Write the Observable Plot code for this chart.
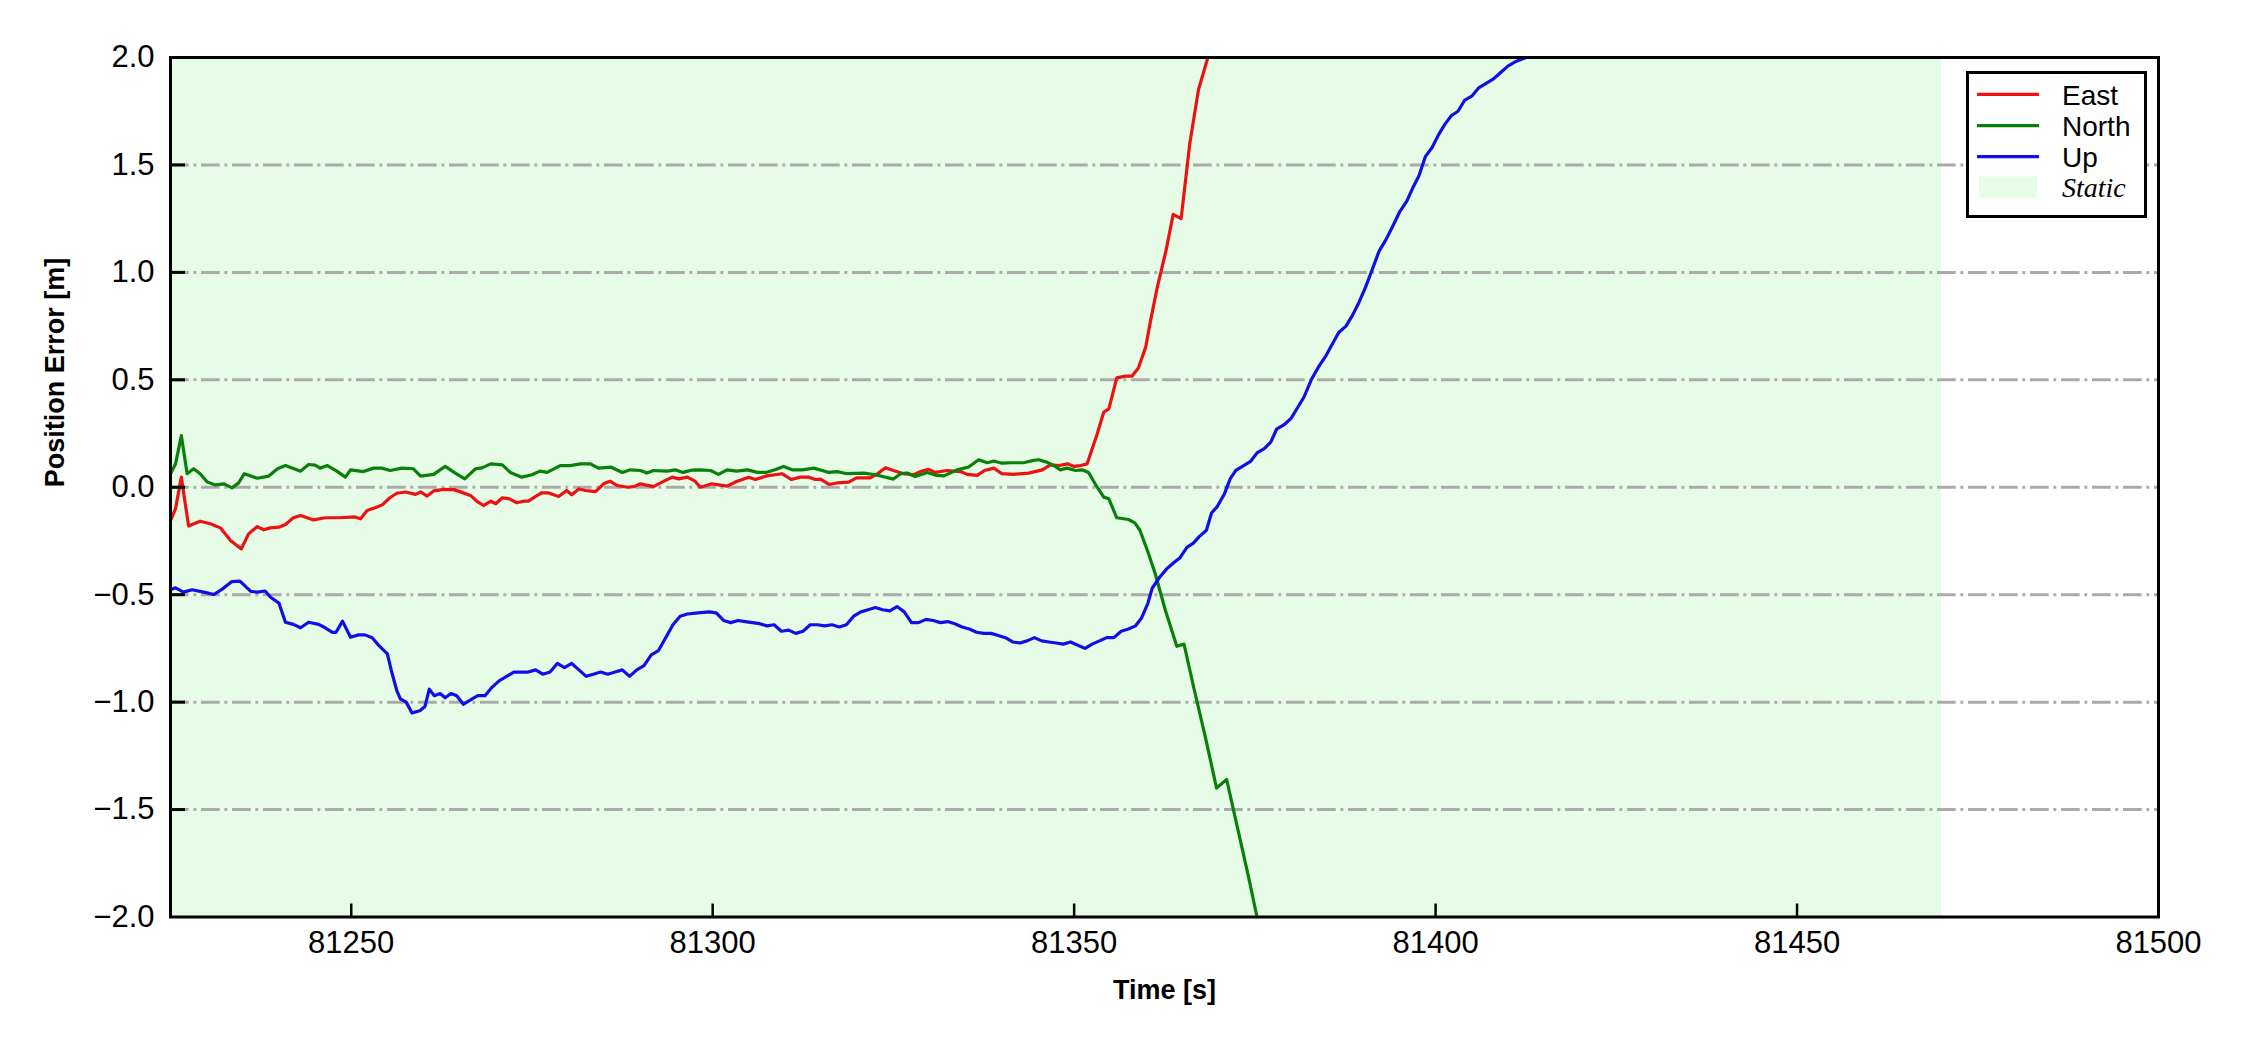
<!DOCTYPE html>
<html>
<head>
<meta charset="utf-8">
<script src="https://cdn.jsdelivr.net/npm/d3@7"></script>
<script src="https://cdn.jsdelivr.net/npm/@observablehq/plot@0.6"></script>
<style>
  html, body { margin: 0; padding: 0; background: #fff; }
  #wrap { position: relative; width: 2250px; height: 1050px; }
  #legend { position: absolute; left: 1966px; top: 71px; }
</style>
</head>
<body>
<div id="wrap"></div>
<script>
// ---- Data ----
const eastT = [81225,81225.7,81226.5,81227.5,81229.1,81230.5,81231.9,81233.3,81234.8,81235.8,81237,81237.9,81238.8,81240,81240.9,81242,81243,81244.8,81246.4,81248.3,81250.5,81251.3,81252.2,81253.3,81254.3,81255.3,81256.3,81257.5,81258.9,81259.6,81260.5,81261.4,81262.8,81264.2,81265.4,81266.5,81267.4,81268.3,81269.3,81270,81270.9,81271.9,81272.9,81273.8,81274.5,81276.3,81277.2,81278.7,81279.8,81280.5,81281.5,81282.4,81283.8,81284.9,81285.8,81286.8,81288.2,81289.1,81290,81291.8,81293,81294.4,81295.3,81296.5,81297.5,81298.3,81299.9,81302,81303.3,81305,81305.9,81307.5,81309.6,81310.9,81312.1,81313.3,81314.2,81314.9,81316.1,81317.2,81318.8,81319.9,81321.8,81322.7,81323.9,81325,81326.4,81327.8,81328.7,81329.9,81330.8,81332.4,81334.3,81335.2,81336.6,81337.6,81338.9,81340,81341.6,81343.7,81345.6,81346.7,81347.9,81349.1,81350,81350.9,81351.8,81353.2,81354.1,81354.8,81355.9,81357.1,81358,81358.9,81359.9,81360.6,81361.5,81362.7,81363.7,81364.8,81366,81367.2,81368.5,81370];
const eastV = [-0.155,-0.1,0.047,-0.18,-0.158,-0.17,-0.189,-0.248,-0.287,-0.217,-0.183,-0.198,-0.189,-0.186,-0.173,-0.142,-0.131,-0.152,-0.142,-0.142,-0.138,-0.147,-0.108,-0.095,-0.082,-0.05,-0.028,-0.022,-0.033,-0.022,-0.041,-0.017,-0.01,-0.011,-0.025,-0.038,-0.066,-0.085,-0.065,-0.077,-0.049,-0.054,-0.072,-0.065,-0.065,-0.026,-0.026,-0.043,-0.015,-0.035,-0.008,-0.015,-0.02,0.016,0.028,0.008,0,0.003,0.016,0.003,0.024,0.047,0.039,0.047,0.03,0,0.016,0.005,0.027,0.047,0.036,0.053,0.063,0.036,0.047,0.047,0.036,0.038,0.013,0.02,0.024,0.044,0.044,0.06,0.091,0.078,0.063,0.058,0.073,0.083,0.069,0.078,0.073,0.06,0.055,0.078,0.089,0.063,0.06,0.066,0.081,0.104,0.101,0.109,0.097,0.101,0.109,0.249,0.35,0.365,0.509,0.517,0.517,0.556,0.652,0.78,0.93,1.1,1.27,1.25,1.6,1.85,2.0,2.3];

const northT = [81225,81225.7,81226.5,81227.3,81228.2,81229.1,81230.1,81231.2,81232.4,81233.5,81234.4,81235.2,81237,81238.6,81239.8,81240.9,81243,81244.1,81245,81245.7,81246.7,81248,81249.2,81249.9,81251.7,81253.1,81254.2,81255.4,81257,81258.6,81259.6,81261.4,81263,81264.4,81265.7,81267.2,81268.1,81269.3,81270.9,81272,81273.6,81275,81276.1,81277.1,81278.9,81280.3,81281.7,81283.1,81284.2,81285.9,81287.5,81288.6,81290,81290.9,81291.8,81293.7,81294.8,81295.9,81297.2,81298.3,81299.7,81300.8,81302,81303.3,81304.8,81306.2,81307.4,81308.7,81309.8,81311,81312.4,81314,81316.1,81317.2,81318.6,81320.9,81322.5,81325,81326,81326.9,81328,81329.7,81331,81332,81333.8,81335.4,81336.8,81338,81338.9,81340,81341.2,81343,81344.4,81345.1,81346.2,81347.2,81348.1,81349,81350.2,81351.1,81352,81352.9,81354.1,81354.8,81355.9,81357.5,81358.4,81359.1,81360.2,81361.2,81362.6,81364.2,81365.2,81366.6,81368.2,81369.7,81371.1,81372.5,81374.1,81375.3,81377];
const northV = [0.063,0.109,0.24,0.063,0.086,0.063,0.024,0.011,0.016,-0.003,0.019,0.063,0.042,0.052,0.086,0.101,0.075,0.106,0.103,0.089,0.101,0.075,0.047,0.081,0.073,0.089,0.089,0.078,0.089,0.086,0.052,0.06,0.097,0.066,0.039,0.086,0.09,0.109,0.104,0.069,0.047,0.058,0.075,0.069,0.101,0.101,0.109,0.109,0.089,0.094,0.069,0.081,0.078,0.066,0.078,0.075,0.081,0.069,0.08,0.081,0.078,0.06,0.081,0.075,0.081,0.069,0.069,0.083,0.097,0.081,0.081,0.089,0.069,0.073,0.063,0.066,0.058,0.038,0.063,0.066,0.05,0.069,0.055,0.053,0.081,0.094,0.128,0.114,0.122,0.112,0.114,0.114,0.125,0.128,0.117,0.101,0.081,0.089,0.078,0.081,0.069,0.016,-0.046,-0.054,-0.142,-0.15,-0.166,-0.2,-0.3,-0.4,-0.57,-0.74,-0.73,-0.94,-1.17,-1.4,-1.36,-1.57,-1.81,-2.0,-2.2];

const upT = [81225,81225.7,81226.8,81228,81229.6,81231,81232.2,81233.5,81234.6,81236.1,81237,81238.1,81238.8,81240,81240.9,81242,81243,81244.1,81245.5,81246.4,81247.4,81247.9,81248.8,81249.9,81251,81251.9,81252.9,81253.8,81255,81255.6,81256.3,81256.8,81257.6,81258.4,81259.5,81260.2,81260.8,81261.5,81262.3,81263,81263.8,81264.6,81265.5,81266.5,81267.5,81268.5,81269.5,81270.5,81271.5,81272.5,81273.5,81274.5,81275.5,81276.5,81277.5,81278.5,81279.5,81280.5,81281.5,81282.5,81283.5,81284.5,81285.5,81286.5,81287.5,81288.5,81289.5,81290.5,81291.5,81292.5,81293.5,81294.5,81295.5,81296.5,81298,81299.5,81300.5,81301.5,81302.5,81303.5,81304.5,81305.5,81306.5,81307.5,81308.5,81309.5,81310.5,81311.5,81312.5,81313.5,81314.5,81315.5,81316.5,81317.5,81318.5,81319.5,81320.5,81321.5,81322.5,81323.5,81324.5,81325.5,81326.5,81327.5,81328.5,81329.5,81330.5,81331.5,81332.5,81333.5,81334.5,81335.5,81336.5,81337.5,81338.5,81339.5,81340.5,81341.5,81342.5,81343.5,81344.5,81345.5,81346.5,81347.5,81348.5,81349.5,81350.5,81351.5,81352.5,81353.5,81354.5,81355.5,81356.5,81357.5,81358.5,81359.3,81360.2,81360.8,81361.8,81362.8,81363.8,81364.6,81365.6,81366.5,81367.3,81368.3,81369,81369.8,81370.8,81371.6,81372.4,81373.4,81374.4,81375.3,81376.3,81377.2,81378,81379,81380,81380.9,81381.8,81382.8,81383.8,81384.8,81385.6,81386.6,81387.6,81388.5,81389.4,81390.3,81391.2,81392.2,81393.1,81394,81395,81396,81396.8,81397.7,81398.6,81399.5,81400.4,81401.3,81402.2,81403.1,81404,81405,81406,81407,81408,81409,81410,81411,81412.5,81414];
const upV = [-0.477,-0.468,-0.488,-0.477,-0.488,-0.499,-0.473,-0.439,-0.437,-0.485,-0.488,-0.483,-0.511,-0.539,-0.628,-0.638,-0.654,-0.628,-0.638,-0.654,-0.675,-0.675,-0.623,-0.698,-0.687,-0.687,-0.7,-0.736,-0.775,-0.86,-0.946,-0.985,-1.0,-1.05,-1.04,-1.02,-0.94,-0.97,-0.96,-0.98,-0.96,-0.97,-1.01,-0.99,-0.97,-0.97,-0.93,-0.9,-0.88,-0.86,-0.86,-0.86,-0.85,-0.87,-0.86,-0.82,-0.84,-0.82,-0.85,-0.88,-0.87,-0.86,-0.87,-0.86,-0.85,-0.88,-0.85,-0.83,-0.78,-0.76,-0.7,-0.64,-0.6,-0.59,-0.585,-0.58,-0.585,-0.62,-0.63,-0.62,-0.625,-0.63,-0.635,-0.645,-0.64,-0.67,-0.665,-0.68,-0.67,-0.64,-0.64,-0.645,-0.64,-0.65,-0.64,-0.6,-0.58,-0.57,-0.56,-0.57,-0.575,-0.555,-0.58,-0.63,-0.63,-0.615,-0.62,-0.63,-0.625,-0.635,-0.65,-0.66,-0.675,-0.68,-0.68,-0.69,-0.7,-0.72,-0.725,-0.715,-0.7,-0.715,-0.72,-0.725,-0.73,-0.72,-0.735,-0.75,-0.73,-0.715,-0.7,-0.7,-0.67,-0.66,-0.645,-0.61,-0.54,-0.47,-0.42,-0.38,-0.35,-0.33,-0.28,-0.26,-0.23,-0.2,-0.12,-0.09,-0.03,0.04,0.08,0.1,0.12,0.16,0.18,0.21,0.27,0.29,0.32,0.37,0.42,0.5,0.56,0.61,0.66,0.72,0.75,0.8,0.86,0.93,1.01,1.1,1.15,1.21,1.28,1.33,1.39,1.45,1.54,1.58,1.64,1.69,1.73,1.75,1.8,1.82,1.86,1.88,1.9,1.93,1.96,1.98,2.0,2.04];

const seriesNames = ["East", "North", "Up"];
const seriesColors = ["#ee1111", "#0a7f0a", "#1010e6"];
const staticStart = [81225];
const staticEnd = [81470];
const staticLabel = "Static";
const xDomain = [81225, 81500];
const yDomain = [-2, 2];
const xTicks = [81250, 81300, 81350, 81400, 81450, 81500];
const yTicks = [-2.0, -1.5, -1.0, -0.5, 0.0, 0.5, 1.0, 1.5, 2.0];
const xLabel = "Time [s]";
const yLabel = "Position Error [m]";

// ---- Build table ----
const rows = [];
[[eastT, eastV], [northT, northV], [upT, upV]].forEach(([T, V], i) => {
  T.forEach((t, j) => rows.push({t, v: V[j], s: seriesNames[i]}));
});
const staticRows = staticStart.map((s, i) => ({x1: s, x2: staticEnd[i]}));
const innerY = yTicks.filter(d => d > yDomain[0] && d < yDomain[1]);
const innerX = xTicks.filter(d => d > xDomain[0] && d < xDomain[1]);

const W = 2250, H = 1050;
const mL = 170, mR = 92, mT = 57, mB = 133.5;
const pw = W - mL - mR, ph = H - mT - mB;
const FONT = "'Liberation Sans', Arial, Helvetica, sans-serif";
const fmtX = d3.format("d");
const fmtY = d3.format(".1f");

const chart = Plot.plot({
  width: W, height: H,
  marginLeft: mL, marginRight: mR, marginTop: mT, marginBottom: mB,
  style: {fontFamily: FONT, background: "white", color: "black", overflow: "visible"},
  x: {domain: xDomain},
  y: {domain: yDomain},
  color: {domain: seriesNames, range: seriesColors},
  marks: [
    Plot.rect(staticRows, {x1: "x1", x2: "x2", fill: "#e6fce6"}),
    Plot.ruleY(innerY, {stroke: "#aaaaaa", strokeWidth: 3, strokeDasharray: "18.7,4.7,2.9,4.7"}),
    Plot.line(rows, {x: "t", y: "v", z: "s", stroke: "s", strokeWidth: 3.2, clip: true, strokeLinejoin: "round"}),
    Plot.tickY(innerY, {y: d => d, stroke: "black", strokeWidth: 3, insetRight: pw - 15}),
    Plot.tickX(innerX, {x: d => d, stroke: "black", strokeWidth: 2.5, insetTop: ph - 13}),
    Plot.axisY({ticks: yTicks, tickFormat: fmtY, tickSize: 0, tickPadding: 16, fontSize: 31, label: null}),
    Plot.axisX({ticks: xTicks, tickFormat: fmtX, tickSize: 0, tickPadding: 14, fontSize: 31, label: null}),
    Plot.frame({stroke: "black", strokeWidth: 3}),
    Plot.text([xLabel], {text: d => d, frameAnchor: "bottom", lineAnchor: "bottom", dy: 81.5, fontSize: 27, fontWeight: "bold", fill: "black"}),
    Plot.text([yLabel], {text: d => d, frameAnchor: "left", lineAnchor: "bottom", rotate: -90, dx: -106.5, fontSize: 27, fontWeight: "bold", fill: "black"})
  ]
});
document.getElementById("wrap").appendChild(chart);

// ---- Legend (overlay built from the series arrays) ----
const ns = "http://www.w3.org/2000/svg";
const lg = document.createElementNS(ns, "svg");
lg.setAttribute("id", "legend");
lg.setAttribute("width", 181);
lg.setAttribute("height", 147);
const box = document.createElementNS(ns, "rect");
box.setAttribute("x", 1.5); box.setAttribute("y", 1.5);
box.setAttribute("width", 178); box.setAttribute("height", 144);
box.setAttribute("fill", "white"); box.setAttribute("stroke", "black"); box.setAttribute("stroke-width", 3);
lg.appendChild(box);
const rowY = [23.3, 54.7, 85.7];
seriesNames.forEach((name, i) => {
  const ln = document.createElementNS(ns, "line");
  ln.setAttribute("x1", 11); ln.setAttribute("x2", 73);
  ln.setAttribute("y1", rowY[i]); ln.setAttribute("y2", rowY[i]);
  ln.setAttribute("stroke", seriesColors[i]); ln.setAttribute("stroke-width", 3.2);
  lg.appendChild(ln);
  const tx = document.createElementNS(ns, "text");
  tx.setAttribute("x", 96); tx.setAttribute("y", rowY[i] + 10.5);
  tx.setAttribute("font-family", FONT); tx.setAttribute("font-size", 28);
  tx.textContent = name;
  lg.appendChild(tx);
});
const patch = document.createElementNS(ns, "rect");
patch.setAttribute("x", 13); patch.setAttribute("y", 105.5);
patch.setAttribute("width", 58); patch.setAttribute("height", 21.5);
patch.setAttribute("fill", "#e6fce6");
lg.appendChild(patch);
const st = document.createElementNS(ns, "text");
st.setAttribute("x", 96); st.setAttribute("y", 125.7);
st.setAttribute("font-family", "'Liberation Serif', 'Times New Roman', serif");
st.setAttribute("font-style", "italic"); st.setAttribute("font-size", 28);
st.textContent = staticLabel;
lg.appendChild(st);
document.getElementById("wrap").appendChild(lg);
</script>
</body>
</html>
